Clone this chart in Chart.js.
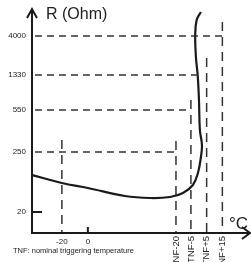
<!DOCTYPE html>
<html>
<head>
<meta charset="utf-8">
<script src="https://cdn.jsdelivr.net/npm/chart.js@4.4.1/dist/chart.umd.min.js"></script>
<style>
  html, body { margin: 0; padding: 0; background: #fff; overflow: hidden; }
  #wrap { position: relative; width: 251px; height: 262px; }
</style>
</head>
<body>
<div id="wrap"><canvas id="ptcChart"></canvas></div>
<script>
// R(T) curve of the PTC, schematic: temperature in degC, resistance as position on the R axis
const curveTemp  = [-43, -20, 0, 28.5, 47.8, 63.2, 73.2, 80.8, 84.7, 87.0, 87.8, 86.2, 85.5, 84.5, 83.2, 82.6, 83.7, 87.0];
const curveLevel = [58, 50, 45, 37, 35, 36, 40, 48, 60, 76, 88, 103, 133, 158, 175, 197, 213, 221];

// R axis (not to scale)
const rLabels  = ['20', '250', '550', '1330', '4000'];
const rLevels  = [21, 81, 123, 158, 197];
const rLineEnd = [-35.3, 67.8, 78.5, 86.0, 103.5];   // degC where each R guide stops

// temperature axis
const tLabels  = ['-20', '0', 'TNF-20', 'TNF-5', 'TNF+5', 'TNF+15'];
const tValues  = [-20, 0, 67.8, 79.3, 91.4, 103.5];
const tLineTop = [93, 6, 92, 133, 175, 211];          // R-axis position where each guide stops

const noteText = 'TNF: nominal triggering temperature';

const X_MIN = -43, X_MAX = 124;
const Y_MIN = 0, Y_MAX = 233;
const FONT = "'Liberation Sans', Arial, sans-serif";
const INK = '#1a1a1a';

const datasets = [];

rLevels.forEach((lv, i) => {
  const tick = rLabels[i] === '20';
  datasets.push({
    data: [{ x: X_MIN, y: lv }, { x: rLineEnd[i], y: lv }],
    borderColor: tick ? INK : '#333',
    borderWidth: tick ? 2 : 1.5,
    borderDash: tick ? [] : [7, 5],
    borderDashOffset: -3
  });
});

tValues.forEach((t, i) => {
  const tick = tLabels[i] === '0';
  datasets.push({
    data: [{ x: t, y: tLineTop[i] }, { x: t, y: Y_MIN }],
    borderColor: tick ? INK : '#333',
    borderWidth: tick ? 2 : 1.5,
    borderDash: tick ? [] : [9, 6]
  });
});

datasets.push({
  data: curveTemp.map((t, i) => ({ x: t, y: curveLevel[i] })),
  borderColor: INK,
  borderWidth: 2.2,
  tension: 0.4
});

datasets.forEach(d => {
  d.showLine = true;
  d.pointRadius = 0;
  d.fill = false;
});

// axes with arrows and all the labels
const axesPlugin = {
  id: 'axes',
  afterDatasetsDraw(chart) {
    const { ctx, scales: { x, y } } = chart;
    const x0 = x.getPixelForValue(X_MIN);
    const y0 = y.getPixelForValue(Y_MIN);
    const yTip = 9;
    const xTip = chart.width - 1;

    ctx.save();
    ctx.strokeStyle = INK;
    ctx.lineWidth = 2;
    ctx.lineCap = 'butt';
    ctx.beginPath();
    ctx.moveTo(x0, y0 + 1);
    ctx.lineTo(x0, yTip);
    ctx.moveTo(x0 - 1, y0);
    ctx.lineTo(xTip, y0);
    ctx.stroke();

    ctx.lineJoin = 'miter';
    ctx.beginPath();
    ctx.moveTo(x0 - 5, yTip + 9);
    ctx.lineTo(x0, yTip);
    ctx.lineTo(x0 + 5, yTip + 9);
    ctx.moveTo(xTip - 8, y0 - 6);
    ctx.lineTo(xTip, y0);
    ctx.lineTo(xTip - 8, y0 + 6);
    ctx.stroke();

    ctx.fillStyle = '#222';

    // R ticks
    ctx.font = '8px ' + FONT;
    ctx.textAlign = 'right';
    ctx.textBaseline = 'middle';
    rLabels.forEach((lab, i) => {
      ctx.fillText(lab, x0 - 6, y.getPixelForValue(rLevels[i]));
    });

    // temperature ticks
    tLabels.forEach((lab, i) => {
      const px = x.getPixelForValue(tValues[i]);
      if (lab.startsWith('TNF')) {
        ctx.save();
        ctx.translate(px, y0 + 3);
        ctx.rotate(-Math.PI / 2);
        ctx.font = '9.5px ' + FONT;
        ctx.textAlign = 'right';
        ctx.textBaseline = 'middle';
        ctx.fillText(lab, 0, 0);
        ctx.restore();
      } else {
        ctx.font = '8px ' + FONT;
        ctx.textAlign = 'center';
        ctx.textBaseline = 'middle';
        ctx.fillText(lab, px, y0 + 9);
      }
    });

    // axis titles
    ctx.font = '16px ' + FONT;
    ctx.textAlign = 'left';
    ctx.textBaseline = 'middle';
    ctx.fillText('R (Ohm)', x0 + 14, 15);

    ctx.font = '17px ' + FONT;
    ctx.textBaseline = 'alphabetic';
    ctx.fillText('°C', 229, 229);

    ctx.font = '7.5px ' + FONT;
    ctx.textBaseline = 'middle';
    ctx.fillText(noteText, 13, 251);
    ctx.restore();
  }
};

new Chart(document.getElementById('ptcChart'), {
  type: 'scatter',
  data: { datasets: datasets },
  options: {
    responsive: true,
    maintainAspectRatio: false,
    animation: false,
    layout: { padding: { left: 32, right: 2, top: 0, bottom: 29 } },
    plugins: { legend: { display: false }, tooltip: { enabled: false } },
    scales: {
      x: { type: 'linear', min: X_MIN, max: X_MAX, display: false },
      y: { type: 'linear', min: Y_MIN, max: Y_MAX, display: false }
    }
  },
  plugins: [axesPlugin]
});
</script>
</body>
</html>
